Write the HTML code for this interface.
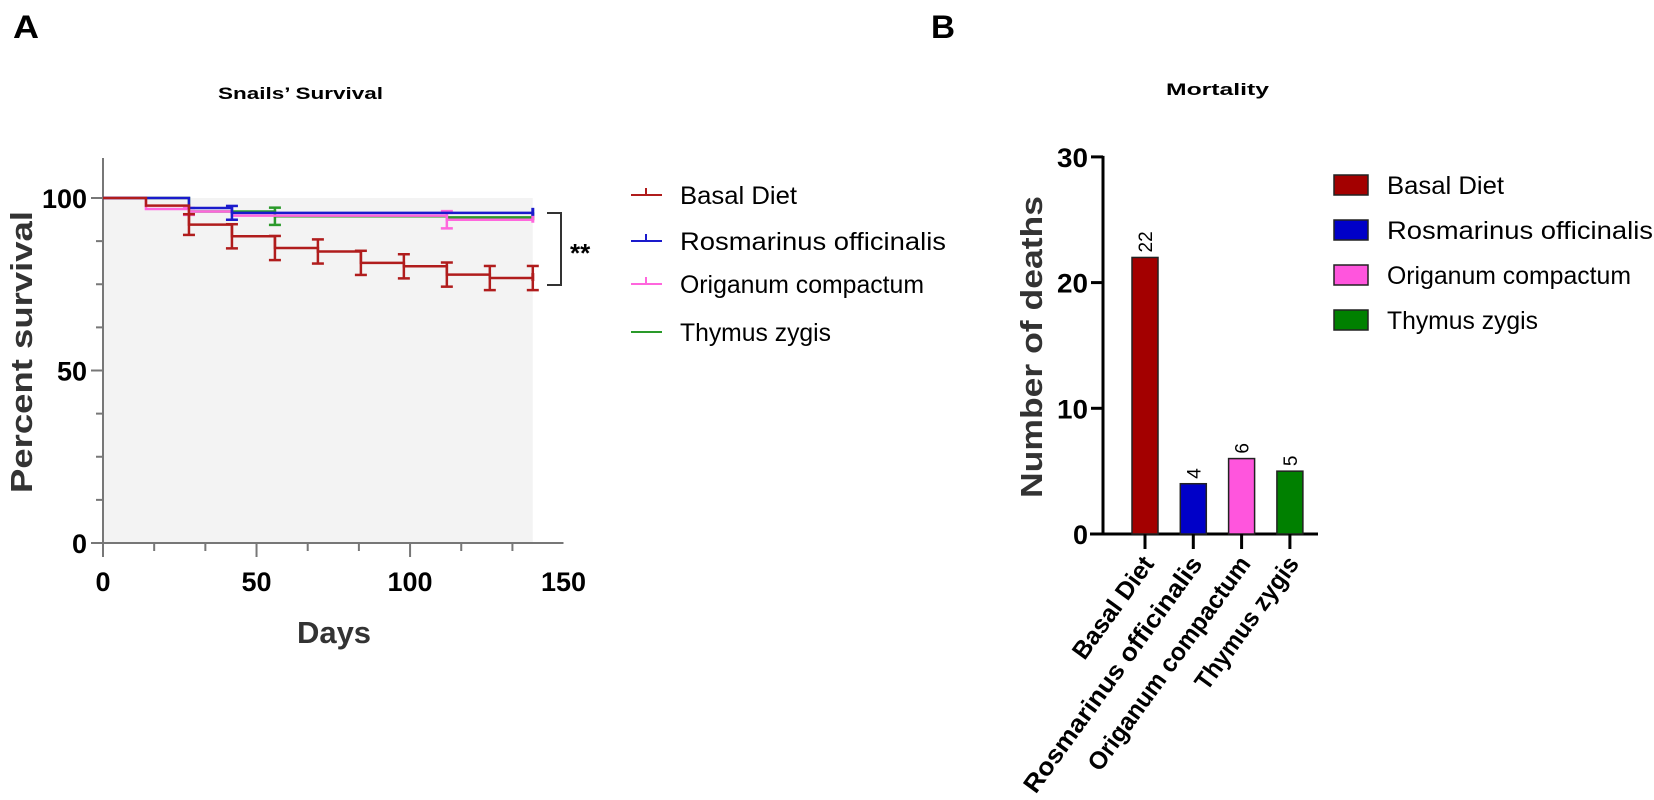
<!DOCTYPE html>
<html><head><meta charset="utf-8"><style>
html,body{margin:0;padding:0;background:#fff;}
svg{display:block;font-family:"Liberation Sans",Arial,sans-serif;}
</style></head><body>
<svg id="fig" width="1654" height="800" viewBox="0 0 1654 800" xmlns="http://www.w3.org/2000/svg">
  <text x="13" y="38" font-size="32" font-weight="bold" textLength="26" lengthAdjust="spacingAndGlyphs">A</text>
  <text x="218" y="99" font-size="17" font-weight="bold" textLength="165" lengthAdjust="spacingAndGlyphs">Snails’ Survival</text>
  <text x="931" y="38" font-size="32" font-weight="bold" textLength="24" lengthAdjust="spacingAndGlyphs">B</text>
  <text x="1166" y="95" font-size="17" font-weight="bold" textLength="103" lengthAdjust="spacingAndGlyphs">Mortality</text>
  <g id="left"></g>
  <g id="right"></g>
</svg>
<script>
// ---- Survival data ----
const basalDays = [0,14,28,42,56,70,84,98,112,126,140];
const basalSurv = [100,97.8,92.3,88.9,85.5,84.5,81.2,80.2,77.8,76.8,76.8];
const basalErr  = [0,0,3,3.5,3.5,3.5,3.5,3.5,3.5,3.5,3.5];
const rosDays = [0,28,42,140];
const rosSurv = [100,97.1,95.7,95.7];
const rosErr  = [0,0,2,0];
const oriDays = [0,14,28,42,112,140];
const oriSurv = [100,96.8,96.1,94.9,93.7,93.7];
const oriErr  = [0,0,1,0,2.5,0];
const thyDays = [0,28,56,112,140];
const thySurv = [100,96.1,94.7,94.4,94.4];
const thyErr  = [0,0,2.5,0,0];
const xTicks = [0,50,100,150];
const yTicks = [0,50,100];
// ---- Mortality data ----
const groups = ["Basal Diet","Rosmarinus officinalis","Origanum compactum","Thymus zygis"];
const deaths = [22,4,6,5];
const deathTicks = [0,10,20,30];

const NS="http://www.w3.org/2000/svg";
function mk(tag,attrs,parent,txt){const e=document.createElementNS(NS,tag);for(const k in attrs)e.setAttribute(k,attrs[k]);if(txt!==undefined)e.textContent=txt;parent.appendChild(e);return e;}

// Left axes
const L=document.getElementById('left');
const sx=d=>103+d*3.07;
const sy=v=>543-v*3.45;
let bg=mk('rect',{x:sx(0),y:sy(100),width:sx(140)-sx(0),height:sy(0)-sy(100),fill:'#f3f3f3'},L);


let ya=mk('line',{x1:sx(0),y1:158,x2:sx(0),y2:sy(0)+14,stroke:'#777','stroke-width':2},L);


let xa=mk('line',{x1:sx(0)-12,y1:sy(0),x2:sx(150),y2:sy(0),stroke:'#777','stroke-width':2},L);


for(let v=0;v<=100;v+=12.5){mk('line',{x1:sx(0)-(v%50===0?12:7),y1:sy(v),x2:sx(0),y2:sy(v),stroke:'#777','stroke-width':2},L);}
for(let d=0;d<=150;d+=16.67){const big=[0,50,100,150].some(t=>Math.abs(t-d)<1);mk('line',{x1:sx(d),y1:sy(0),x2:sx(d),y2:sy(0)+(big?14:8),stroke:'#777','stroke-width':2},L);}
yTicks.forEach(v=>{const t=mk('text',{x:sx(0)-16,y:sy(v)+10,'font-size':27,'font-weight':'bold','text-anchor':'end'},L,String(v));

});
xTicks.forEach(v=>{const t=mk('text',{x:sx(v),y:591,'font-size':27,'font-weight':'bold','text-anchor':'middle'},L,String(v));

});
let yt=mk('text',{x:0,y:0,'font-size':31,'font-weight':'bold','text-anchor':'middle',fill:'#333',transform:'translate(32,352) rotate(-90)',textLength:282,lengthAdjust:'spacingAndGlyphs'},L,'Percent survival');


let xt=mk('text',{x:334,y:643,'font-size':31,'font-weight':'bold','text-anchor':'middle',fill:'#333'},L,'Days');



function drawSeries(days,surv,err,color,name){
  const g=mk('g',{},L);
  
  
  let p='M'+sx(days[0])+','+sy(surv[0]);
  for(let i=1;i<days.length;i++){p+=' H'+sx(days[i])+' V'+sy(surv[i]);}
  mk('path',{d:p,fill:'none',stroke:color,'stroke-width':2.5},g);
  for(let i=0;i<days.length;i++){if(err[i]>0){const x=sx(days[i]);
    mk('line',{x1:x,y1:sy(surv[i]+err[i]),x2:x,y2:sy(surv[i]-err[i]),stroke:color,'stroke-width':2.5},g);
    mk('line',{x1:x-6,y1:sy(surv[i]+err[i]),x2:x+6,y2:sy(surv[i]+err[i]),stroke:color,'stroke-width':2.5},g);
    mk('line',{x1:x-6,y1:sy(surv[i]-err[i]),x2:x+6,y2:sy(surv[i]-err[i]),stroke:color,'stroke-width':2.5},g);}}
  const lx=sx(days[days.length-1]),ly=sy(surv[surv.length-1]);
  mk('line',{x1:lx,y1:ly-5,x2:lx,y2:ly+3,stroke:color,'stroke-width':3},g);
}
drawSeries(thyDays,thySurv,thyErr,'#2a9a2a','series-thymus');
drawSeries(oriDays,oriSurv,oriErr,'#ff66dd','series-origanum');
drawSeries(rosDays,rosSurv,rosErr,'#1a1acc','series-rosmarinus');
drawSeries(basalDays,basalSurv,basalErr,'#b01c1c','series-basal');

let br=mk('path',{d:'M547,213 H561 V285 H547',fill:'none',stroke:'#333','stroke-width':2},L);


let st=mk('text',{x:570,y:262,'font-size':26,'font-weight':'bold'},L,'**');



const lcolors=['#b01c1c','#1a1acc','#ff66dd','#2a9a2a'];
const lrows=[195,241,284,332];
const lwidths=[117,266,244,151];
groups.forEach((n,i)=>{const g=mk('g',{},L);
  
  
  mk('line',{x1:631,y1:lrows[i],x2:662,y2:lrows[i],stroke:lcolors[i],'stroke-width':2},g);
  if(i<3)mk('line',{x1:646,y1:lrows[i]-7,x2:646,y2:lrows[i],stroke:lcolors[i],'stroke-width':2},g);
  mk('text',{x:680,y:lrows[i]+9,'font-size':25,textLength:lwidths[i],lengthAdjust:'spacingAndGlyphs'},g,n);});

// Right chart
const R=document.getElementById('right');
const ax=1103, y0=534, ppu=12.57;
const by=v=>y0-v*ppu;
const barX=i=>1145+i*48.3;
const bcolors=['#a30000','#0000c8','#ff55dd','#008000'];
let rya=mk('line',{x1:ax,y1:by(30)-1,x2:ax,y2:y0+1,stroke:'#000','stroke-width':3},R);


let rxa=mk('line',{x1:ax-13,y1:y0,x2:1318,y2:y0,stroke:'#000','stroke-width':3},R);


deathTicks.forEach(v=>{mk('line',{x1:ax-12,y1:by(v),x2:ax,y2:by(v),stroke:'#000','stroke-width':3},R);
  const t=mk('text',{x:ax-15,y:by(v)+10,'font-size':27,'font-weight':'bold','text-anchor':'end',textLength:v?31:15,lengthAdjust:'spacingAndGlyphs'},R,String(v));
  
  });
let ryt=mk('text',{x:0,y:0,'font-size':31,'font-weight':'bold','text-anchor':'middle',fill:'#333',transform:'translate(1042,347) rotate(-90)',textLength:302,lengthAdjust:'spacingAndGlyphs'},R,'Number of deaths');


const clens=[120,285,258,158];
deaths.forEach((v,i)=>{const cx=barX(i);
  const b=mk('rect',{x:cx-13,y:by(v),width:26,height:v*ppu,fill:bcolors[i],stroke:'#222','stroke-width':1.5},R);
  
  
  const vl=mk('text',{x:0,y:0,'font-size':19,transform:'translate('+(cx+7)+','+(by(v)-5)+') rotate(-90)'},R,String(v));
  
  
  mk('line',{x1:cx,y1:y0,x2:cx,y2:y0+15,stroke:'#000','stroke-width':3},R);
  const cl=mk('text',{x:0,y:0,'font-size':25,'font-weight':'bold','text-anchor':'end',textLength:clens[i],lengthAdjust:'spacingAndGlyphs',transform:'translate('+(cx+10)+',564) rotate(-54)'},R,groups[i]);
  
  });
const rrows=[185,230,275,320];
groups.forEach((n,i)=>{const g=mk('g',{},R);
  
  
  mk('rect',{x:1334,y:rrows[i]-10,width:34,height:20,fill:bcolors[i],stroke:'#222','stroke-width':1.5},g);
  mk('text',{x:1387,y:rrows[i]+9,'font-size':25,textLength:[117,266,244,151][i],lengthAdjust:'spacingAndGlyphs'},g,n);});
</script>
</body></html>
